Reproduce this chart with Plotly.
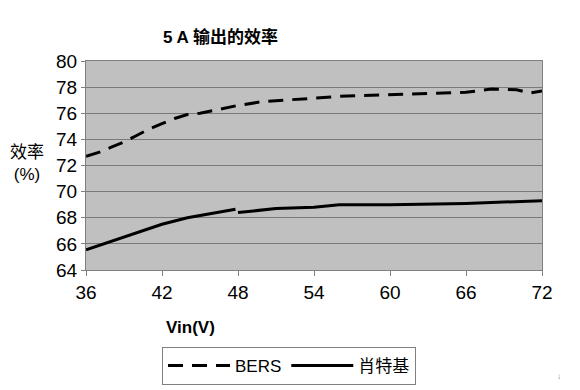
import plotly.graph_objects as go

# Data
vin_bers = [36, 37, 38, 39, 40, 41, 42, 43, 44, 45, 46, 48, 50, 52, 54, 56, 58, 60, 63, 66, 68, 70, 71, 72]
eff_bers = [72.7, 73.0, 73.4, 73.8, 74.3, 74.8, 75.2, 75.6, 75.9, 76.0, 76.2, 76.6, 76.9, 77.0, 77.15, 77.3, 77.35, 77.4, 77.5, 77.6, 77.85, 77.8, 77.55, 77.7]

vin_schottky = [36, 38, 40, 42, 44, 46, 47.8, None, 48, 51, 54, 56, 60, 66, 72]
eff_schottky = [65.55, 66.2, 66.9, 67.5, 68.0, 68.35, 68.65, None, 68.4, 68.7, 68.8, 69.0, 69.0, 69.1, 69.3]

x_ticks = [36, 42, 48, 54, 60, 66, 72]
y_ticks = [64, 66, 68, 70, 72, 74, 76, 78, 80]

title_text = "5 A 输出的效率"
y_title = "效率<br>(%)"
x_title = "Vin(V)"
series_names = ["BERS", "肖特基"]

FONT = "Liberation Sans, Arial, Noto Sans CJK SC, sans-serif"

# page body has an 8px default margin; figure is sized to compensate
OFF = 8
W, H = 580 - OFF, 390 - OFF
X0, X1, Y0, Y1 = 86, 542, 61, 270  # plot area in screen px
L, T = X0 - OFF, Y0 - OFF
R, B = 580 - X1, 390 - Y1
PW, PH = X1 - X0, Y1 - Y0


def px(x):
    return (x - X0) / PW


def py(y):
    return (Y1 - y) / PH


fig = go.Figure()
fig.add_trace(go.Scatter(x=vin_bers, y=eff_bers, mode="lines", name=series_names[0],
                         line=dict(color="black", width=3, dash="15px,9px")))
fig.add_trace(go.Scatter(x=vin_schottky, y=eff_schottky, mode="lines", name=series_names[1],
                         line=dict(color="black", width=3), connectgaps=False))

fig.update_layout(
    width=W, height=H,
    margin=dict(l=L, r=R, t=T, b=B, autoexpand=False),
    paper_bgcolor="white",
    plot_bgcolor="#c0c0c0",
    font=dict(family=FONT, color="black", size=19),
    showlegend=True,
    legend=dict(orientation="h", x=px(162), y=py(347), xanchor="left", yanchor="top",
                bordercolor="#808080", borderwidth=1, bgcolor="white",
                font=dict(size=17, family=FONT, color="black"),
                itemwidth=62, tracegroupgap=0),
    annotations=[
        dict(text="<b>" + title_text + "</b>", x=px(220), y=py(37), xref="paper", yref="paper",
             showarrow=False, font=dict(size=17), xanchor="center", yanchor="middle"),
        dict(text=y_title, x=px(27), y=py(163), xref="paper", yref="paper", showarrow=False,
             align="center", font=dict(size=17), xanchor="center", yanchor="middle"),
        dict(text="<b>" + x_title + "</b>", x=px(164), y=py(327), xref="paper", yref="paper",
             showarrow=False, font=dict(size=17), xanchor="left", yanchor="middle"),
        dict(text="↓", x=px(555), y=py(376), xref="paper", yref="paper", showarrow=False,
             font=dict(size=8, color="#888"), xanchor="left", yanchor="middle"),
    ],
)

fig.update_xaxes(range=[36, 72], tickvals=x_ticks, ticks="outside", ticklen=5, tickcolor="#808080",
                 showline=True, linecolor="#808080", linewidth=1, mirror=True, automargin=False,
                 showgrid=False, zeroline=False, tickfont=dict(size=19))
fig.update_yaxes(range=[64, 80], tickvals=y_ticks, ticks="outside", ticklen=4, tickcolor="#808080",
                 showline=True, linecolor="#808080", linewidth=1, mirror=True, automargin=False,
                 showgrid=True, gridcolor="#7a7a7a", gridwidth=1, zeroline=False,
                 tickfont=dict(size=19))

fig.write_html("out.html")
